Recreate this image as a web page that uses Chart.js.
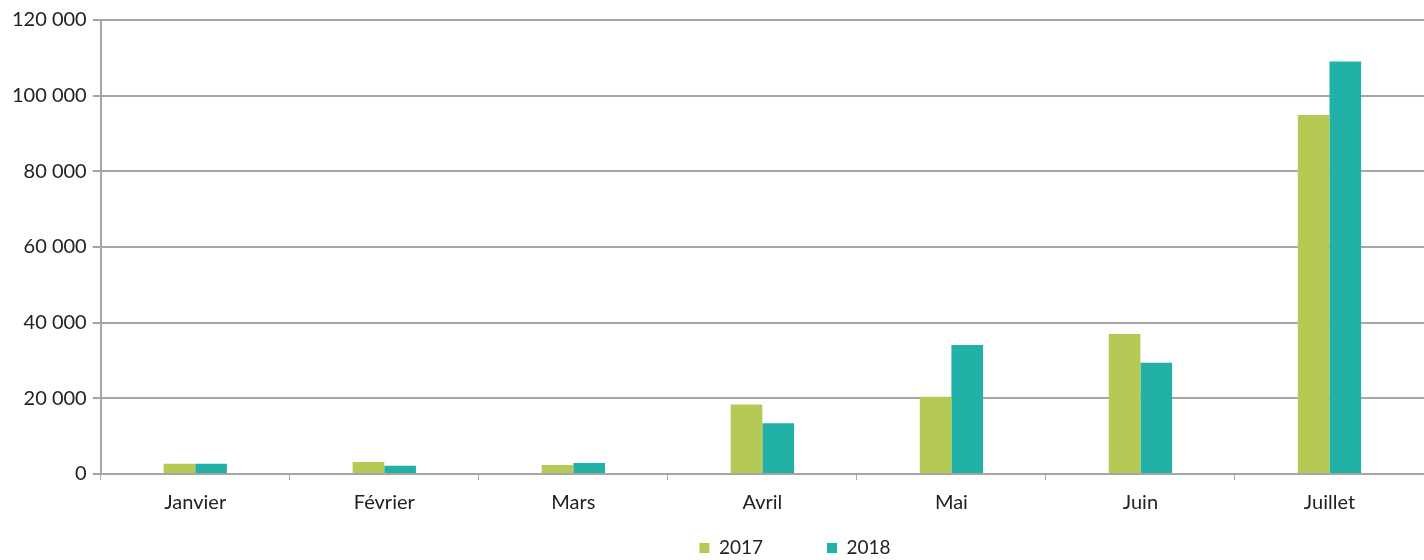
<!DOCTYPE html>
<html>
<head>
<meta charset="utf-8">
<script src="https://cdn.jsdelivr.net/npm/chart.js@4"></script>
<style>
  html, body { margin: 0; padding: 0; background: #fff; }
  #chart { display: block; }
</style>
</head>
<body>
<canvas id="chart" width="1424" height="560"></canvas>
<script>
const months = ["Janvier", "Février", "Mars", "Avril", "Mai", "Juin", "Juillet"];
const values2017 = [2700, 3200, 2400, 18400, 20400, 37000, 94900];
const values2018 = [2700, 2200, 2900, 13400, 34100, 29400, 109000];
const yTicks = [0, 20000, 40000, 60000, 80000, 100000, 120000];

const fmt = v => String(v).replace(/\B(?=(\d{3})+(?!\d))/g, " ");

const legendGap = 64;
const legendFont = 19;

// wide gap between legend items without the legend eating vertical room
const legendFix = {
  id: "legendFix",
  beforeLayout(chart) {
    const lg = chart.legend;
    if (!lg || lg._wrapped) return;
    const fit = lg.fit;
    lg.fit = function () { fit.call(this); this.height = 34; };
    lg._wrapped = true;
  },
  afterLayout(chart) {
    const lg = chart.legend;
    lg.left += 80;
    lg.right += 80;
    lg.top = 548 - legendGap - legendFont / 2;
  }
};

new Chart(document.getElementById("chart"), {
  type: "bar",
  data: {
    labels: months,
    datasets: [
      { label: "2017", data: values2017, backgroundColor: "#b5ca55" },
      { label: "2018", data: values2018, backgroundColor: "#22b1a6" }
    ]
  },
  options: {
    responsive: false,
    animation: false,
    layout: { padding: { top: 20, right: 0, left: 6, bottom: 0 } },
    datasets: { bar: { categoryPercentage: 0.335, barPercentage: 1 } },
    plugins: {
      legend: {
        position: "bottom",
        labels: {
          boxWidth: 10, boxHeight: 10, padding: legendGap,
          color: "#222", font: { family: "Lato", size: legendFont }
        }
      },
      tooltip: { enabled: false }
    },
    scales: {
      x: {
        grid: { drawOnChartArea: false, drawTicks: true, tickLength: 6, color: "#a6a6a6", lineWidth: 1 },
        border: { color: "#a6a6a6", width: 2 },
        ticks: { color: "#222", font: { family: "Lato", size: 20 }, padding: 11 }
      },
      y: {
        min: 0, max: 120000,
        afterBuildTicks(axis) { axis.ticks = yTicks.map(v => ({ value: v })); },
        grid: { color: "#a6a6a6", lineWidth: 2, tickLength: 8 },
        border: { color: "#a6a6a6", width: 2 },
        ticks: { color: "#222", font: { family: "Lato", size: 20 }, padding: 6, callback: v => fmt(v) }
      }
    }
  },
  plugins: [legendFix]
});
</script>
</body>
</html>
